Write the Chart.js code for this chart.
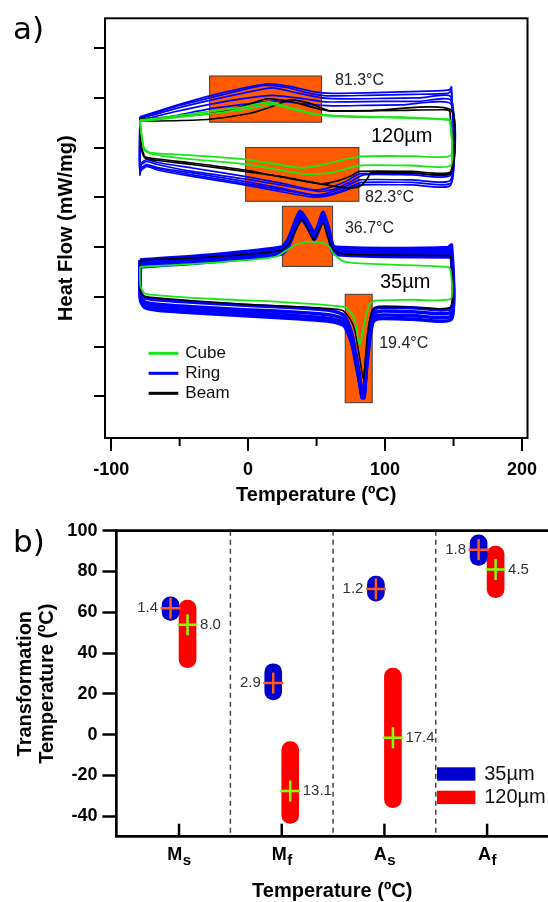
<!DOCTYPE html>
<html>
<head>
<meta charset="utf-8">
<script src="https://cdn.jsdelivr.net/npm/chart.js@4.4.0/dist/chart.umd.min.js"></script>
<style>
  body { margin: 0; background: #fff; }
  #ca { position: absolute; left: 0; top: 0; }
  #cb { position: absolute; left: 0; top: 510px; }
</style>
</head>
<body>
<canvas id="ca" width="548" height="510"></canvas>
<canvas id="cb" width="548" height="392"></canvas>
<script>
// ---- panel a: DSC loops, [temperature, heat flow] (heat flow in tick units, no labels) ----
const ring120a = [[-79,5.62],[-53.6,5.84],[-28.1,6.04],[-2.6,6.2],[15.3,6.28],[30.6,6.23],[48.5,6.12],[61.2,6.09],[86.7,6.1],[112,6.12],[138,6.14],[147,6.16],[148.5,6.22],
  [148.5,4.49],[120,4.48],[81.6,4.47],[71.4,4.32],[58.7,4.19],[48.5,4.15],[23,4.29],[-2.6,4.42],[-40.8,4.59],[-66.3,4.7],[-74,4.76],[-77.8,4.69],[-79,4.45],[-79,5.62]];
const ring120b = [[-79,5.58],[-53.6,5.78],[-28.1,5.95],[-2.6,6.1],[17.9,6.2],[35.7,6.1],[53.6,6.0],[74,5.98],[99.5,5.99],[125,6.0],[148,6.02],
  [148,4.35],[120,4.35],[81.6,4.35],[71.4,4.22],[58.7,4.09],[48.5,4.05],[23,4.19],[-2.6,4.32],[-40.8,4.49],[-66.3,4.6],[-74,4.66],[-77.8,4.59],[-79,4.52],[-79,5.58]];
const ring120c = [[-79,5.55],[-53.6,5.72],[-28.1,5.87],[-2.6,5.99],[17.9,6.05],[38.3,5.99],[56.1,5.92],[74,5.92],[99.5,5.93],[125,5.93],[148,5.95],
  [148,4.25],[120,4.25],[81.6,4.25],[71.4,4.14],[56.1,4.02],[45.9,4.01],[23,4.12],[-2.6,4.25],[-40.8,4.42],[-66.3,4.55],[-74,4.62],[-79,4.55],[-79,5.55]];
const ring120d = [[-79,5.52],[-53.6,5.64],[-28.1,5.78],[-2.6,5.87],[20.4,5.94],[40.8,5.88],[61.2,5.84],[86.7,5.85],[112,5.86],[148,5.88],
  [148,4.45],[120,4.45],[84.2,4.45],[74,4.3],[61.2,4.15],[51,4.12],[23,4.25],[-2.6,4.37],[-40.8,4.52],[-66.3,4.66],[-74,4.72],[-77.8,4.66],[-79,4.49],[-79,5.52]];
const ring120e = [[-79,5.6],[-53.6,5.82],[-28.1,6.0],[-2.6,6.17],[12,6.25],[28,6.21],[45,6.09],[58,6.04],[86.7,6.05],[120,6.07],[146,6.09],[148.5,6.14],
  [148.5,4.3],[120,4.3],[83,4.3],[72,4.18],[60,4.06],[50,4.03],[25,4.15],[-2.6,4.28],[-40.8,4.45],[-66.3,4.58],[-75,4.64],[-79,4.52],[-79,5.6]];
const beam120a = [[-79,5.58],[-53.6,5.62],[-28.1,5.68],[-2.6,5.84],[13.5,5.98],[30.6,5.93],[50,5.79],[59.7,5.74],[74,5.74],[112,5.75],[145.4,5.76],[147.4,5.72],
  [148,4.52],[120,4.52],[81.6,4.52],[74,4.42],[63.8,4.32],[53.6,4.27],[35.7,4.35],[-2.6,4.55],[-40.8,4.69],[-66.3,4.77],[-75.3,4.82],[-77.8,5.02],[-79,5.58]];
const beam120b = [[-79,5.53],[-53.6,5.54],[-28.1,5.57],[0,5.68],[15,5.8],[30.6,5.96],[45.2,5.89],[59.7,5.74],[86.7,5.74],[148,5.76],
  [148,4.49],[120,4.49],[89.3,4.49],[88,4.42],[85.5,4.32],[81.6,4.22],[74,4.19],[63.8,4.22],[48.5,4.29],[23,4.42],[-2.6,4.52],[-40.8,4.66],[-66.3,4.74],[-75.3,4.79],[-77.8,4.96],[-79,5.53]];
const cube120a = [[-79,5.55],[-40.8,5.68],[-2.6,5.82],[15.3,5.92],[30.6,5.8],[48.5,5.68],[74,5.63],[112,5.61],[145.4,5.56],[147.4,5.53],
  [148,4.84],[120,4.83],[81.4,4.82],[59.7,4.69],[40.3,4.59],[-1,4.76],[-49.5,4.86],[-71.4,4.9],[-76,4.99],[-78,5.29],[-79,5.55]];
const cube120b = [[-79,5.53],[-40.8,5.64],[-2.6,5.77],[18,5.87],[33,5.77],[50,5.66],[74,5.62],[112,5.6],[146,5.57],[147.6,5.54],
  [148,4.64],[120,4.64],[81.4,4.64],[59.7,4.49],[40.3,4.47],[-1,4.66],[-49.5,4.79],[-71.4,4.88],[-76,4.96],[-78,5.29],[-79,5.53]];

const ring35a = [[-79,2.74],[-28.1,2.84],[24.5,3.0],[29.3,3.16],[34.4,3.52],[38,3.72],[42.1,3.58],[48.5,3.28],[51.5,3.46],[54.8,3.7],[58.7,3.38],[62.2,3.02],[68.4,2.99],[99.5,2.97],[146.2,2.99],[148.5,3.04],
  [148.5,1.78],[120,1.78],[95.2,1.79],[91.3,1.72],[89,1.4],[86.5,0.76],[84.7,0.1],[83.2,0.1],[80.4,0.58],[75.5,1.28],[70.2,1.62],[61.2,1.72],[35.7,1.78],[-2.6,1.83],[-40.8,1.89],[-66.3,1.94],[-75.3,1.98],[-78.3,2.08],[-79,2.3],[-79,2.74]];
const ring35b = [[-79,2.69],[-28.1,2.79],[24.5,2.95],[29.3,3.11],[34.4,3.48],[38,3.68],[42.1,3.55],[48.5,3.24],[51.5,3.42],[54.8,3.66],[58.7,3.35],[62.2,2.97],[68.4,2.93],[99.5,2.91],[146.2,2.93],[148.5,2.9],
  [148.5,1.7],[120,1.7],[95.2,1.71],[91.3,1.64],[89,1.31],[86.5,0.67],[84.7,0.0],[83.2,0.0],[80.4,0.5],[75.5,1.21],[70.2,1.54],[61.2,1.63],[35.7,1.69],[-2.6,1.74],[-40.8,1.8],[-66.3,1.85],[-75.3,1.89],[-78.3,2.0],[-79,2.2],[-79,2.69]];
const ring35c = [[-79,2.64],[-28.1,2.74],[24.5,2.9],[29.3,3.05],[34.4,3.42],[38,3.63],[42.1,3.5],[48.5,3.2],[51.5,3.38],[54.8,3.62],[58.7,3.3],[62.2,2.92],[68.4,2.88],[99.5,2.86],[146.2,2.87],[148.5,2.84],
  [148.5,1.62],[120,1.62],[95.2,1.63],[91.3,1.56],[89,1.24],[86.5,0.62],[84.7,-0.03],[83.2,-0.03],[80.4,0.45],[75.5,1.14],[70.2,1.47],[61.2,1.56],[35.7,1.62],[-2.6,1.68],[-40.8,1.74],[-66.3,1.79],[-75.3,1.83],[-78.3,1.94],[-79,2.15],[-79,2.64]];
const ring35d = [[-79,2.6],[-28.1,2.7],[24.5,2.86],[29.3,3.0],[34.4,3.36],[38,3.58],[42.1,3.46],[48.5,3.16],[51.5,3.34],[54.8,3.57],[58.7,3.25],[62.2,2.88],[68.4,2.84],[99.5,2.81],[146.2,2.8],[148.5,2.78],
  [148.5,1.55],[120,1.55],[95.2,1.56],[91.3,1.5],[89,1.18],[86.5,0.57],[84.7,0.05],[83.2,0.05],[80.4,0.42],[75.5,1.08],[70.2,1.41],[61.2,1.5],[35.7,1.56],[-2.6,1.62],[-40.8,1.68],[-66.3,1.73],[-75.3,1.78],[-78.3,1.9],[-79,2.1],[-79,2.6]];
const beam35 = [[-79,2.74],[-28,2.8],[24,2.93],[30,3.08],[35,3.35],[39.3,3.55],[43,3.4],[47.7,3.14],[51,3.3],[54.8,3.48],[58,3.2],[62.2,2.94],[70,2.86],[100,2.84],[146.2,2.83],[148,2.8],
  [148,1.8],[120,1.79],[92.6,1.79],[90.1,1.69],[87.2,1.27],[84.2,0.36],[81.6,0.74],[77.8,1.34],[74,1.57],[68.4,1.73],[35.7,1.8],[-2.6,1.85],[-40.8,1.92],[-74,2.0],[-77.8,2.04],[-79,2.21],[-79,2.74]];
const cube35 = [[-79,2.6],[-28.1,2.68],[19.6,2.8],[34.2,3.04],[43.9,3.11],[56.1,3.07],[60,2.98],[62.2,2.87],[70.7,2.7],[99.5,2.65],[146.2,2.6],[148,2.51],
  [148,1.96],[120,1.94],[92.6,1.92],[88.5,1.84],[85.5,1.55],[82.5,1.12],[81.6,1.04],[80.5,1.12],[78.5,1.45],[76.8,1.61],[70.7,1.79],[26.8,1.89],[-28.1,1.96],[-75,2.06],[-78.5,2.2],[-79,2.4],[-79,2.6]];

// transformation windows [T from, T to, flow low, flow high]
const peakBoxes = [[-28.1, 53.6, 5.51, 6.44], [-1.8, 80.9, 3.92, 5.0], [25.0, 61.7, 2.61, 3.82], [70.9, 90.6, -0.13, 2.05]];
const peakNotes = [['81.3°C', 63.4, 6.34], ['82.3°C', 85.4, 3.99], ['36.7°C', 70.7, 3.38], ['19.4°C', 95.7, 1.05]];
const sizeNotes = [['120µm', 89.7, 5.22], ['35µm', 96.3, 2.29]];
const shapeNames = ['Cube', 'Ring', 'Beam'];
const shapeColors = ['#19e619', '#0000ff', '#000000'];

// ---- panel b: transformation temperatures ----
const phases = ['M', 'M', 'A', 'A'];
const phaseSubs = ['s', 'f', 's', 'f'];
const low35 = [56.0, 17.1, 65.5, 83.0];
const high35 = [67.6, 34.8, 77.8, 98.0];
const mean35 = [62.0, 25.3, 71.4, 90.7];
const sd35 = ['1.4', '2.9', '1.2', '1.8'];
const low120 = [32.9, -43.5, -35.8, 67.2];
const high120 = [66.0, -3.4, 32.6, 92.5];
const mean120 = [53.9, -27.6, -1.5, 81.0];
const sd120 = ['8.0', '13.1', '17.4', '4.5'];

Chart.defaults.font.family = '"Liberation Sans", Arial, sans-serif';
Chart.defaults.color = '#000';

function curve(points, color, width) {
  return {
    data: points.map(p => ({ x: p[0], y: p[1] })),
    showLine: true,
    borderColor: color,
    backgroundColor: color,
    borderWidth: width,
    pointRadius: 0,
    pointHitRadius: 0,
    tension: 0.2,
    fill: false
  };
}

// first dataset is drawn on top
const loops = [
  curve(cube35, shapeColors[0], 1.8),
  curve(cube120a, shapeColors[0], 1.8),
  curve(cube120b, shapeColors[0], 1.8),
  curve(beam35, shapeColors[2], 1.5),
  curve(beam120a, shapeColors[2], 1.7),
  curve(beam120b, shapeColors[2], 1.7),
  curve(ring35a, shapeColors[1], 3.6),
  curve(ring35b, shapeColors[1], 3.6),
  curve(ring35c, shapeColors[1], 3.6),
  curve(ring35d, shapeColors[1], 3.6),
  curve(ring120a, shapeColors[1], 1.7),
  curve(ring120b, shapeColors[1], 1.7),
  curve(ring120c, shapeColors[1], 1.7),
  curve(ring120d, shapeColors[1], 1.7),
  curve(ring120e, shapeColors[1], 1.7)
];

const panelA = {
  id: 'panelA',
  beforeDatasetsDraw(chart) {
    const { ctx, scales: { x, y } } = chart;
    ctx.save();
    peakBoxes.forEach(b => {
      const l = x.getPixelForValue(b[0]);
      const r = x.getPixelForValue(b[1]);
      const t = y.getPixelForValue(b[3]);
      const bt = y.getPixelForValue(b[2]);
      ctx.fillStyle = '#ff5a00';
      ctx.fillRect(l, t, r - l, bt - t);
      ctx.strokeStyle = '#3c3c3c';
      ctx.lineWidth = 1;
      ctx.strokeRect(l, t, r - l, bt - t);
    });
    ctx.restore();
  },
  afterDraw(chart) {
    const { ctx, chartArea: a, scales: { x, y } } = chart;
    ctx.save();
    // frame
    ctx.strokeStyle = '#000';
    ctx.lineWidth = 2;
    ctx.strokeRect(a.left, a.top, a.right - a.left, a.bottom - a.top);
    // short minor ticks
    x.ticks.filter(t => t.value % 100 !== 0).forEach(t => {
      const px = x.getPixelForValue(t.value);
      ctx.beginPath();
      ctx.moveTo(px, a.bottom);
      ctx.lineTo(px, a.bottom + 8);
      ctx.stroke();
    });
    // annotations
    ctx.textBaseline = 'middle';
    ctx.textAlign = 'left';
    ctx.fillStyle = '#222';
    ctx.font = '16px "Liberation Sans", Arial, sans-serif';
    peakNotes.forEach(n => ctx.fillText(n[0], x.getPixelForValue(n[1]), y.getPixelForValue(n[2])));
    ctx.fillStyle = '#000';
    ctx.font = '20px "Liberation Sans", Arial, sans-serif';
    sizeNotes.forEach(n => ctx.fillText(n[0], x.getPixelForValue(n[1]), y.getPixelForValue(n[2])));
    // legend
    ctx.font = '17px "Liberation Sans", Arial, sans-serif';
    shapeNames.forEach((name, i) => {
      const ly = a.top + 335 + i * 20;
      ctx.strokeStyle = shapeColors[i];
      ctx.lineWidth = 3;
      ctx.beginPath();
      ctx.moveTo(a.left + 43.6, ly);
      ctx.lineTo(a.left + 73.3, ly);
      ctx.stroke();
      ctx.fillStyle = '#111';
      ctx.fillText(name, a.left + 80.3, ly);
    });
    // panel letter
    ctx.textBaseline = 'alphabetic';
    ctx.fillStyle = '#000';
    ctx.font = '31px "DejaVu Sans", sans-serif';
    ctx.fillText('a)', 13, 38.5);
    ctx.restore();
  }
};

new Chart(document.getElementById('ca'), {
  type: 'scatter',
  data: { datasets: loops },
  options: {
    responsive: false,
    animation: false,
    events: [],
    layout: { padding: { top: 18.3, right: 20.5, left: 0, bottom: 0 } },
    plugins: { legend: { display: false }, tooltip: { enabled: false } },
    scales: {
      x: {
        type: 'linear',
        min: -104.5,
        max: 204,
        ticks: {
          stepSize: 50,
          autoSkip: false,
          includeBounds: false,
          maxRotation: 0,
          padding: 8,
          font: { size: 18, weight: 'bold', lineHeight: 1.2 },
          color: '#000',
          callback: v => (v % 100 === 0 ? v : '')
        },
        grid: {
          drawOnChartArea: false,
          tickLength: 13,
          lineWidth: 2,
          tickColor: c => (c.tick && c.tick.value % 100 === 0 ? '#000' : 'rgba(0,0,0,0)')
        },
        border: { display: false },
        title: {
          display: true,
          text: 'Temperature (ºC)',
          color: '#000',
          font: { size: 20, weight: 'bold', lineHeight: 1 },
          padding: { top: 0, bottom: 5 }
        },
        afterFit: s => { s.height = 72; }
      },
      y: {
        min: -0.84,
        max: 7.6,
        ticks: { display: false, stepSize: 1, includeBounds: false, autoSkip: false },
        grid: { drawOnChartArea: false, tickLength: 11, lineWidth: 2, color: '#000' },
        border: { display: false },
        title: {
          display: true,
          text: 'Heat Flow (mW/mg)',
          color: '#000',
          font: { size: 20, weight: 'bold', lineHeight: 1.2 },
          padding: { top: 54.4, bottom: 0 }
        },
        afterFit: s => { s.width = 105; }
      }
    }
  },
  plugins: [panelA]
});

// ---- panel b ----
const panelB = {
  id: 'panelB',
  beforeDatasetsDraw(chart) {
    const { ctx, chartArea: a, scales: { x } } = chart;
    ctx.save();
    ctx.strokeStyle = '#444';
    ctx.lineWidth = 1.5;
    ctx.setLineDash([5, 4]);
    phases.slice(1).forEach((p, i) => {
      const px = x.getPixelForValue(i + 0.5);
      ctx.beginPath();
      ctx.moveTo(px, a.top);
      ctx.lineTo(px, a.bottom);
      ctx.stroke();
    });
    ctx.restore();
  },
  afterDatasetsDraw(chart) {
    const { ctx, scales: { y } } = chart;
    const groups = [
      { meta: chart.getDatasetMeta(0), mean: mean35, sd: sd35, color: '#ff5a1e', side: -1 },
      { meta: chart.getDatasetMeta(1), mean: mean120, sd: sd120, color: '#80ff00', side: 1 }
    ];
    ctx.save();
    ctx.font = '15px "Liberation Sans", Arial, sans-serif';
    ctx.textBaseline = 'middle';
    groups.forEach(g => {
      g.meta.data.forEach((bar, i) => {
        const cx = bar.x;
        const cy = y.getPixelForValue(g.mean[i]);
        ctx.strokeStyle = g.color;
        ctx.lineWidth = 2.5;
        ctx.beginPath();
        ctx.moveTo(cx - 10, cy); ctx.lineTo(cx + 10, cy);
        ctx.moveTo(cx, cy - 10.5); ctx.lineTo(cx, cy + 10.5);
        ctx.stroke();
        ctx.fillStyle = '#333';
        ctx.textAlign = g.side < 0 ? 'right' : 'left';
        ctx.fillText(g.sd[i], cx + g.side * (bar.width / 2 + 4), cy);
      });
    });
    ctx.restore();
  },
  afterDraw(chart) {
    const { ctx, chartArea: a, scales: { x } } = chart;
    ctx.save();
    // top frame line
    ctx.strokeStyle = '#000';
    ctx.lineWidth = 2.7;
    ctx.beginPath();
    ctx.moveTo(a.left - 1, a.top);
    ctx.lineTo(a.right, a.top);
    ctx.stroke();
    // inward category ticks and labels with subscripts
    ctx.fillStyle = '#000';
    ctx.textBaseline = 'alphabetic';
    ctx.textAlign = 'left';
    phases.forEach((p, i) => {
      const px = x.getPixelForValue(i);
      ctx.lineWidth = 2.5;
      ctx.beginPath();
      ctx.moveTo(px, a.bottom);
      ctx.lineTo(px, a.bottom - 13);
      ctx.stroke();
      ctx.font = 'bold 18px "Liberation Sans", Arial, sans-serif';
      const w1 = ctx.measureText(p).width;
      ctx.font = 'bold 15px "Liberation Sans", Arial, sans-serif';
      const w2 = ctx.measureText(phaseSubs[i]).width;
      const sx = px - (w1 + w2) / 2;
      ctx.font = 'bold 18px "Liberation Sans", Arial, sans-serif';
      ctx.fillText(p, sx, a.bottom + 23.3);
      ctx.font = 'bold 15px "Liberation Sans", Arial, sans-serif';
      ctx.fillText(phaseSubs[i], sx + w1 + 0.5, a.bottom + 28.3);
    });
    // legend
    const sets = chart.data.datasets;
    ctx.font = '20px "Liberation Sans", Arial, sans-serif';
    ctx.textBaseline = 'middle';
    sets.forEach((ds, i) => {
      const top = a.top + 236.6 + i * 23.4;
      ctx.fillStyle = ds.backgroundColor;
      ctx.fillRect(a.left + 320.6, top, 38.4, 13.4);
      ctx.fillStyle = '#111';
      ctx.fillText(ds.label, a.left + 367.8, top + 6.9);
    });
    // panel letter
    ctx.textBaseline = 'alphabetic';
    ctx.fillStyle = '#000';
    ctx.font = '31px "DejaVu Sans", sans-serif';
    ctx.fillText('b)', 13, 41.5);
    ctx.restore();
  }
};

new Chart(document.getElementById('cb'), {
  type: 'bar',
  data: {
    datasets: [
      {
        label: '35µm',
        data: phases.map((p, i) => ({ x: i, y: [low35[i], high35[i]] })),
        backgroundColor: '#0000cc',
        barThickness: 17,
        borderRadius: 9,
        borderSkipped: false
      },
      {
        label: '120µm',
        data: phases.map((p, i) => ({ x: i, y: [low120[i], high120[i]] })),
        backgroundColor: '#ff0000',
        barThickness: 17,
        borderRadius: 9,
        borderSkipped: false
      }
    ]
  },
  options: {
    responsive: false,
    animation: false,
    events: [],
    layout: { padding: { top: 20.7, right: 0, left: 0, bottom: 0 } },
    plugins: { legend: { display: false }, tooltip: { enabled: false } },
    scales: {
      x: {
        type: 'linear',
        min: -0.61,
        max: 3.593,
        offset: false,
        grid: { display: false, offset: false },
        ticks: { display: false },
        border: { display: true, color: '#000', width: 2.7 },
        title: {
          display: true,
          text: 'Temperature (ºC)',
          color: '#000',
          font: { size: 20, weight: 'bold', lineHeight: 1 },
          padding: { top: 0, bottom: 0.3 }
        },
        afterFit: s => { s.height = 65.3; }
      },
      y: {
        min: -50,
        max: 100,
        ticks: {
          stepSize: 20,
          includeBounds: false,
          autoSkip: false,
          padding: 5,
          color: '#000',
          font: { size: 18, weight: 'bold', lineHeight: 1.2 }
        },
        grid: { drawOnChartArea: false, tickLength: 14, tickWidth: 2.5, color: '#000' },
        border: { display: true, color: '#000', width: 2.7 },
        title: {
          display: true,
          text: ['Transformation', 'Temperature (ºC)'],
          color: '#000',
          font: { size: 20, weight: 'bold', lineHeight: 1.1 },
          padding: { top: 14, bottom: 0 }
        },
        afterFit: s => { s.width = 116.4; }
      }
    }
  },
  plugins: [panelB]
});
</script>
</body>
</html>
